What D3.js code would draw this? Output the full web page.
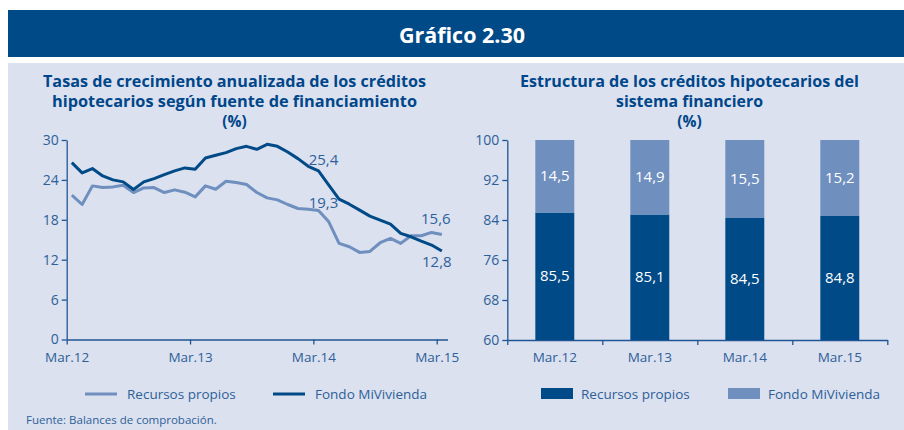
<!DOCTYPE html>
<html lang="es">
<head>
<meta charset="UTF-8">
<title>Gráfico 2.30</title>
<script src="https://cdn.jsdelivr.net/npm/d3@7/dist/d3.min.js"></script>
<style>
  body { margin: 0; background: #fff; }
  svg { display: block; font-family: "Open Sans", "Noto Sans", sans-serif; }
</style>
</head>
<body>
<svg id="chart" width="904" height="430"></svg>
<script>
// --- data -------------------------------------------------------------
// monthly growth rates, Mar.12 .. Mar.15 (37 months)
const recursosPropios = [21.7, 20.3, 23.1, 22.85, 22.95, 23.2, 22.1, 22.8, 22.85, 22.1, 22.5, 22.15,
  21.45, 23.1, 22.6, 23.8, 23.6, 23.3, 22.1, 21.3, 21.0, 20.3, 19.7, 19.6,
  19.4, 17.7, 14.45, 13.95, 13.1, 13.25, 14.55, 15.2, 14.45, 15.6, 15.6, 16.1, 15.8];
const fondoMiVivienda = [26.6, 25.05, 25.7, 24.6, 24.0, 23.7, 22.55, 23.7, 24.2, 24.8, 25.35, 25.8,
  25.6, 27.3, 27.7, 28.1, 28.7, 29.05, 28.6, 29.35, 29.05, 28.2, 27.2, 26.05,
  25.35, 23.2, 21.1, 20.35, 19.45, 18.55, 17.95, 17.35, 15.95, 15.45, 14.8, 14.2, 13.3];
const lineTickLabels = ["Mar.12", "Mar.13", "Mar.14", "Mar.15"];
const lineTickIndex = [0, 12, 24, 36];
const lineYTicks = [0, 6, 12, 18, 24, 30];
// annotated values: [series, month index, text]
const lineNotes = [["fondo", 24, "25,4"], ["propios", 24, "19,3"], ["propios", 36, "15,6"], ["fondo", 36, "12,8"]];

// structure of mortgage loans (%)
const barCategories = ["Mar.12", "Mar.13", "Mar.14", "Mar.15"];
const barPropios = [85.5, 85.1, 84.5, 84.8];
const barFondo = [14.5, 14.9, 15.5, 15.2];
const barYTicks = [60, 68, 76, 84, 92, 100];

// --- colours ----------------------------------------------------------
const dark = "#004a87", light = "#6f8fbf", axisCol = "#1f5593", textCol = "#2d6099", titleCol = "#00468a";

const svg = d3.select("#chart");
const fmt = d3.formatLocale({decimal: ",", thousands: ".", grouping: [3], currency: ["", ""]}).format(".1f");

// header + panel
svg.append("rect").attr("x", 8).attr("y", 10).attr("width", 896).attr("height", 47).attr("fill", "#004a87");
svg.append("text").attr("x", 462).attr("y", 43).attr("text-anchor", "middle")
  .attr("fill", "#fff").attr("font-size", 21).attr("font-weight", 700)
  .attr("textLength", 126).attr("lengthAdjust", "spacingAndGlyphs").text("Gráfico 2.30");
svg.append("rect").attr("x", 8).attr("y", 63).attr("width", 896).attr("height", 367).attr("fill", "#dbe1ef");

function title(cx, lines) {
  lines.forEach(([t, y, w]) => {
    const el = svg.append("text").attr("x", cx).attr("y", y).attr("text-anchor", "middle")
      .attr("fill", titleCol).attr("font-size", 15.5).attr("font-weight", 700).text(t);
    if (w) el.attr("textLength", w).attr("lengthAdjust", "spacingAndGlyphs");
  });
}
title(234.5, [["Tasas de crecimiento anualizada de los créditos", 87, 383],
  ["hipotecarios según fuente de financiamiento", 107, 365], ["(%)", 127, null]]);
title(689.5, [["Estructura de los créditos hipotecarios del", 87, 339],
  ["sistema financiero", 107, 147], ["(%)", 127, null]]);

function styleAxis(g) {
  g.selectAll("path, line").attr("stroke", axisCol).attr("stroke-width", 1.3);
  g.selectAll("text").attr("fill", textCol).attr("font-size", 14).attr("font-family", "Open Sans");
}

// --- line chart -------------------------------------------------------
const x = d3.scaleLinear().domain([-0.5, 36.55]).range([66.7, 447.5]);
const y = d3.scaleLinear().domain([0, 30]).range([339.5, 140]);

svg.append("g").attr("transform", "translate(66.7,0)")
  .call(d3.axisLeft(y).tickValues(lineYTicks).tickSize(5).tickSizeOuter(0))
  .call(styleAxis);
svg.append("g").attr("transform", "translate(0,339.5)")
  .call(d3.axisBottom(x).tickValues(lineTickIndex.map(i => i - 0.5)).tickSize(5).tickSizeOuter(0)
    .tickFormat((d, i) => lineTickLabels[i]).tickPadding(8))
  .call(styleAxis)
  .call(g => g.selectAll("text").attr("font-size", 13.5));

const line = d3.line().x((d, i) => x(i)).y(d => y(d));
svg.append("path").datum(recursosPropios).attr("d", line)
  .attr("fill", "none").attr("stroke", light).attr("stroke-width", 3).attr("stroke-linejoin", "round");
svg.append("path").datum(fondoMiVivienda).attr("d", line)
  .attr("fill", "none").attr("stroke", dark).attr("stroke-width", 3).attr("stroke-linejoin", "round");

const noteOffset = {"25,4": [5, -6], "19,3": [5, -2], "15,6": [-6, -10], "12,8": [-5, 16]};
svg.append("g").selectAll("text").data(lineNotes).join("text")
  .attr("x", d => x(d[1]) + noteOffset[d[2]][0])
  .attr("y", d => y((d[0] === "fondo" ? fondoMiVivienda : recursosPropios)[d[1]]) + noteOffset[d[2]][1])
  .attr("text-anchor", "middle").attr("fill", textCol).attr("font-size", 15).text(d => d[2]);

// legend (line chart)
const lineLegend = [["Recursos propios", light, 85], ["Fondo MiVivienda", dark, 273]];
lineLegend.forEach(([t, c, lx]) => {
  svg.append("line").attr("x1", lx).attr("x2", lx + 32).attr("y1", 394).attr("y2", 394)
    .attr("stroke", c).attr("stroke-width", 3);
  svg.append("text").attr("x", lx + 42).attr("y", 399).attr("fill", textCol).attr("font-size", 13.5).text(t);
});

// --- stacked bar chart ------------------------------------------------
const xb = d3.scaleBand().domain(barCategories).range([507.3, 887.3]).paddingInner(0.59).paddingOuter(0.295);
const yb = d3.scaleLinear().domain([60, 100]).range([340, 140]).clamp(true);

svg.append("g").attr("transform", "translate(507.3,0)")
  .call(d3.axisLeft(yb).tickValues(barYTicks).tickSize(5).tickSizeOuter(0))
  .call(styleAxis);
const xEdges = d3.scaleLinear().domain([0, barCategories.length]).range([507.3, 887.3]);
svg.append("g").attr("transform", "translate(0,340)")
  .call(d3.axisBottom(xEdges).ticks(barCategories.length).tickSize(5).tickSizeOuter(0).tickFormat(""))
  .call(styleAxis);
svg.append("g").attr("transform", "translate(0,340)")
  .call(d3.axisBottom(xb).tickSize(0).tickPadding(12))
  .call(styleAxis)
  .call(g => g.select(".domain").remove())
  .call(g => g.selectAll("text").attr("font-size", 13.5));

const rows = barCategories.map((c, i) => ({cat: c, propios: barPropios[i], fondo: barFondo[i]}));
const stack = d3.stack().keys(["propios", "fondo"])(rows);
const colors = {propios: dark, fondo: light};

const layer = svg.append("g").selectAll("g").data(stack).join("g").attr("fill", s => colors[s.key]);
layer.selectAll("rect").data(s => s).join("rect")
  .attr("x", d => xb(d.data.cat)).attr("width", xb.bandwidth())
  .attr("y", d => yb(d[1])).attr("height", d => yb(d[0]) - yb(d[1]));
layer.selectAll("text").data(s => s.map(d => Object.assign([d[0], d[1]], {data: d.data, key: s.key}))).join("text")
  .attr("x", d => xb(d.data.cat) + xb.bandwidth() / 2)
  .attr("y", d => (yb(d[0]) + yb(d[1])) / 2 + 5)
  .attr("text-anchor", "middle").attr("fill", "#fff").attr("font-size", 15)
  .text(d => fmt(d.data[d.key]));

// legend (bar chart)
const barLegend = [["Recursos propios", dark, 541], ["Fondo MiVivienda", light, 728]];
barLegend.forEach(([t, c, lx]) => {
  svg.append("rect").attr("x", lx).attr("y", 388).attr("width", 32).attr("height", 11).attr("fill", c);
  svg.append("text").attr("x", lx + 40).attr("y", 399).attr("fill", textCol).attr("font-size", 13.5).text(t);
});

svg.append("text").attr("x", 26).attr("y", 424).attr("fill", textCol).attr("font-size", 11.5)
  .text("Fuente: Balances de comprobación.");
</script>
</body>
</html>
